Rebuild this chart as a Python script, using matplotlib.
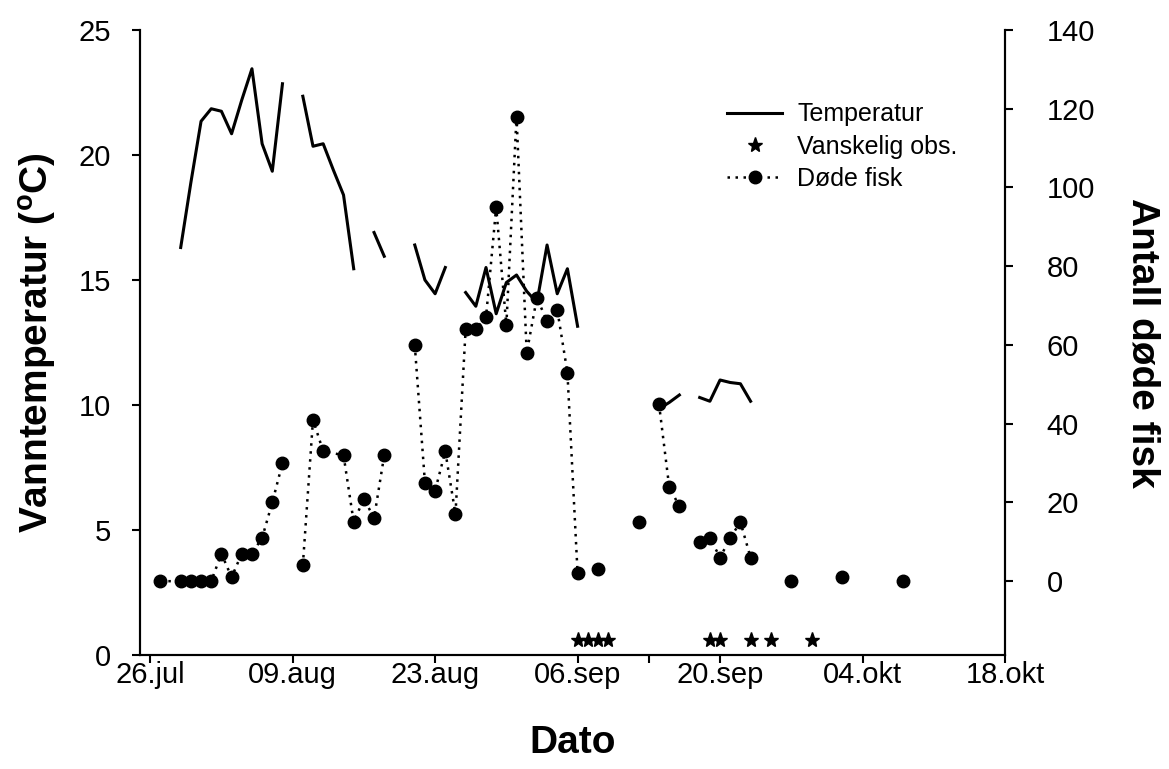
import matplotlib
matplotlib.use('Agg')
import matplotlib.pyplot as plt
import numpy as np
from datetime import datetime

plt.rcParams['font.family'] = ['Liberation Sans', 'DejaVu Sans']
plt.rcParams['mathtext.fontset'] = 'custom'
plt.rcParams['mathtext.rm'] = 'Liberation Sans'
plt.rcParams['mathtext.bf'] = 'Liberation Sans:bold'

AAR = 2006
nan = np.nan

# vanntemperatur (grader C), nan = brudd i linja
temp_datoer = ['07-29', '07-30', '07-31', '08-01', '08-02', '08-03', '08-04', '08-05',
               '08-06', '08-07', '08-08', '08-09', '08-10', '08-11', '08-12', '08-13',
               '08-14', '08-15', '08-16', '08-17', '08-18', '08-19', '08-21', '08-22',
               '08-23', '08-24', '08-25', '08-26', '08-27', '08-28', '08-29', '08-30',
               '08-31', '09-01', '09-02', '09-03', '09-04', '09-05', '09-06', '09-07',
               '09-14', '09-15', '09-16', '09-17', '09-18', '09-19', '09-20', '09-21',
               '09-22', '09-23']
temp_verdier = [16.3, 18.9, 21.35, 21.85, 21.75, 20.85, 22.2, 23.45,
                20.45, 19.35, 22.85, nan, 22.35, 20.35, 20.45, 19.4,
                18.4, 15.45, nan, 16.9, 15.95, nan, 16.4, 15.0,
                14.45, 15.5, nan, 14.5, 13.95, 15.5, 13.65, 14.9,
                15.2, 14.55, 14.1, 16.4, 14.45, 15.45, 13.15, nan,
                9.85, 10.1, 10.4, nan, 10.3, 10.15, 11.0, 10.9,
                10.85, 10.15]

# antall døde fisk, nan = brudd i linja
fisk_datoer = ['07-27', '07-29', '07-30', '07-31', '08-01', '08-02', '08-03', '08-04',
               '08-05', '08-06', '08-07', '08-08', '08-09', '08-10', '08-11', '08-12',
               '08-14', '08-15', '08-16', '08-17', '08-18', '08-19', '08-21', '08-22',
               '08-23', '08-24', '08-25', '08-26', '08-27', '08-28', '08-29', '08-30',
               '08-31', '09-01', '09-02', '09-03', '09-04', '09-05', '09-06', '09-07',
               '09-08', '09-09', '09-12', '09-13', '09-14', '09-15', '09-16', '09-17',
               '09-18', '09-19', '09-20', '09-21', '09-22', '09-23', '09-24', '09-27',
               '09-28', '10-02', '10-03', '10-08']
fisk_antall = [0, 0, 0, 0, 0, 7, 1, 7,
               7, 11, 20, 30, nan, 4, 41, 33,
               32, 15, 21, 16, 32, nan, 60, 25,
               23, 33, 17, 64, 64, 67, 95, 65,
               118, 58, 72, 66, 69, 53, 2, nan,
               3, nan, 15, nan, 45, 24, 19, nan,
               10, 11, 6, 11, 15, 6, nan, 0,
               nan, 1, nan, 0]

# dager med vanskelig observasjon
vanskelig_datoer = ['09-06', '09-07', '09-08', '09-09', '09-19', '09-20', '09-23',
                    '09-25', '09-29']

tick_datoer = ['07-26', '08-09', '08-23', '09-06', '09-20', '10-04', '10-18']
tick_tekst = ['26.jul', '09.aug', '23.aug', '06.sep', '20.sep', '04.okt', '18.okt']


def til_dato(s):
    return datetime.strptime(f'{AAR}-{s}', '%Y-%m-%d')


def til_datoer(liste):
    return [til_dato(s) for s in liste]


fig = plt.figure(figsize=(11.69, 7.69), dpi=100)
ax = fig.add_axes([140 / 1169, 1 - 655 / 769, 865 / 1169, 625 / 769])
ax2 = ax.twinx()

h_temp, = ax.plot(til_datoer(temp_datoer), temp_verdier, color='black', lw=2.2)
h_stjerne, = ax.plot(til_datoer(vanskelig_datoer), [0.6] * len(vanskelig_datoer),
                     linestyle='none', marker='*', color='black', markersize=11)
h_fisk, = ax2.plot(til_datoer(fisk_datoer), fisk_antall, color='black', lw=1.8,
                   linestyle=(0, (1, 2.2)), marker='o', markersize=9)

ax.set_xlim(til_dato('07-25'), til_dato('10-18'))
ax.set_ylim(0, 25)
ax2.set_ylim(-18.75, 140)

ax.set_xticks(til_datoer(tick_datoer))
ax.set_xticklabels(tick_tekst)
ax.set_xticks([til_dato('09-13')], minor=True)
ax.set_yticks(np.arange(0, 26, 5))
ax2.set_yticks(np.arange(0, 141, 20))

for a in (ax, ax2):
    a.spines['top'].set_visible(False)
    for s in a.spines.values():
        s.set_linewidth(1.5)
    a.tick_params(which='both', direction='out', length=6, width=1.5, labelsize=21)
ax.tick_params(axis='x', pad=-2)
ax.tick_params(axis='y', pad=15)
ax2.tick_params(axis='y', pad=24)

ax.set_xlabel('Dato', fontsize=28, fontweight='bold', labelpad=26)
ax.set_ylabel(r'Vanntemperatur ($\mathbf{^o}$C)', fontsize=28, fontweight='bold', labelpad=14)
ax2.set_ylabel('Antall døde fisk', fontsize=28, fontweight='bold', rotation=-90, labelpad=47)

ax2.legend([h_temp, h_stjerne, h_fisk], ['Temperatur', 'Vanskelig obs.', 'Døde fisk'],
           loc='upper left', bbox_to_anchor=(0.679, 0.884), frameon=False, fontsize=18,
           handlelength=2.2, handletextpad=0.6, labelspacing=0.33, borderpad=0,
           borderaxespad=0)

fig.savefig('out.png', dpi=100)
